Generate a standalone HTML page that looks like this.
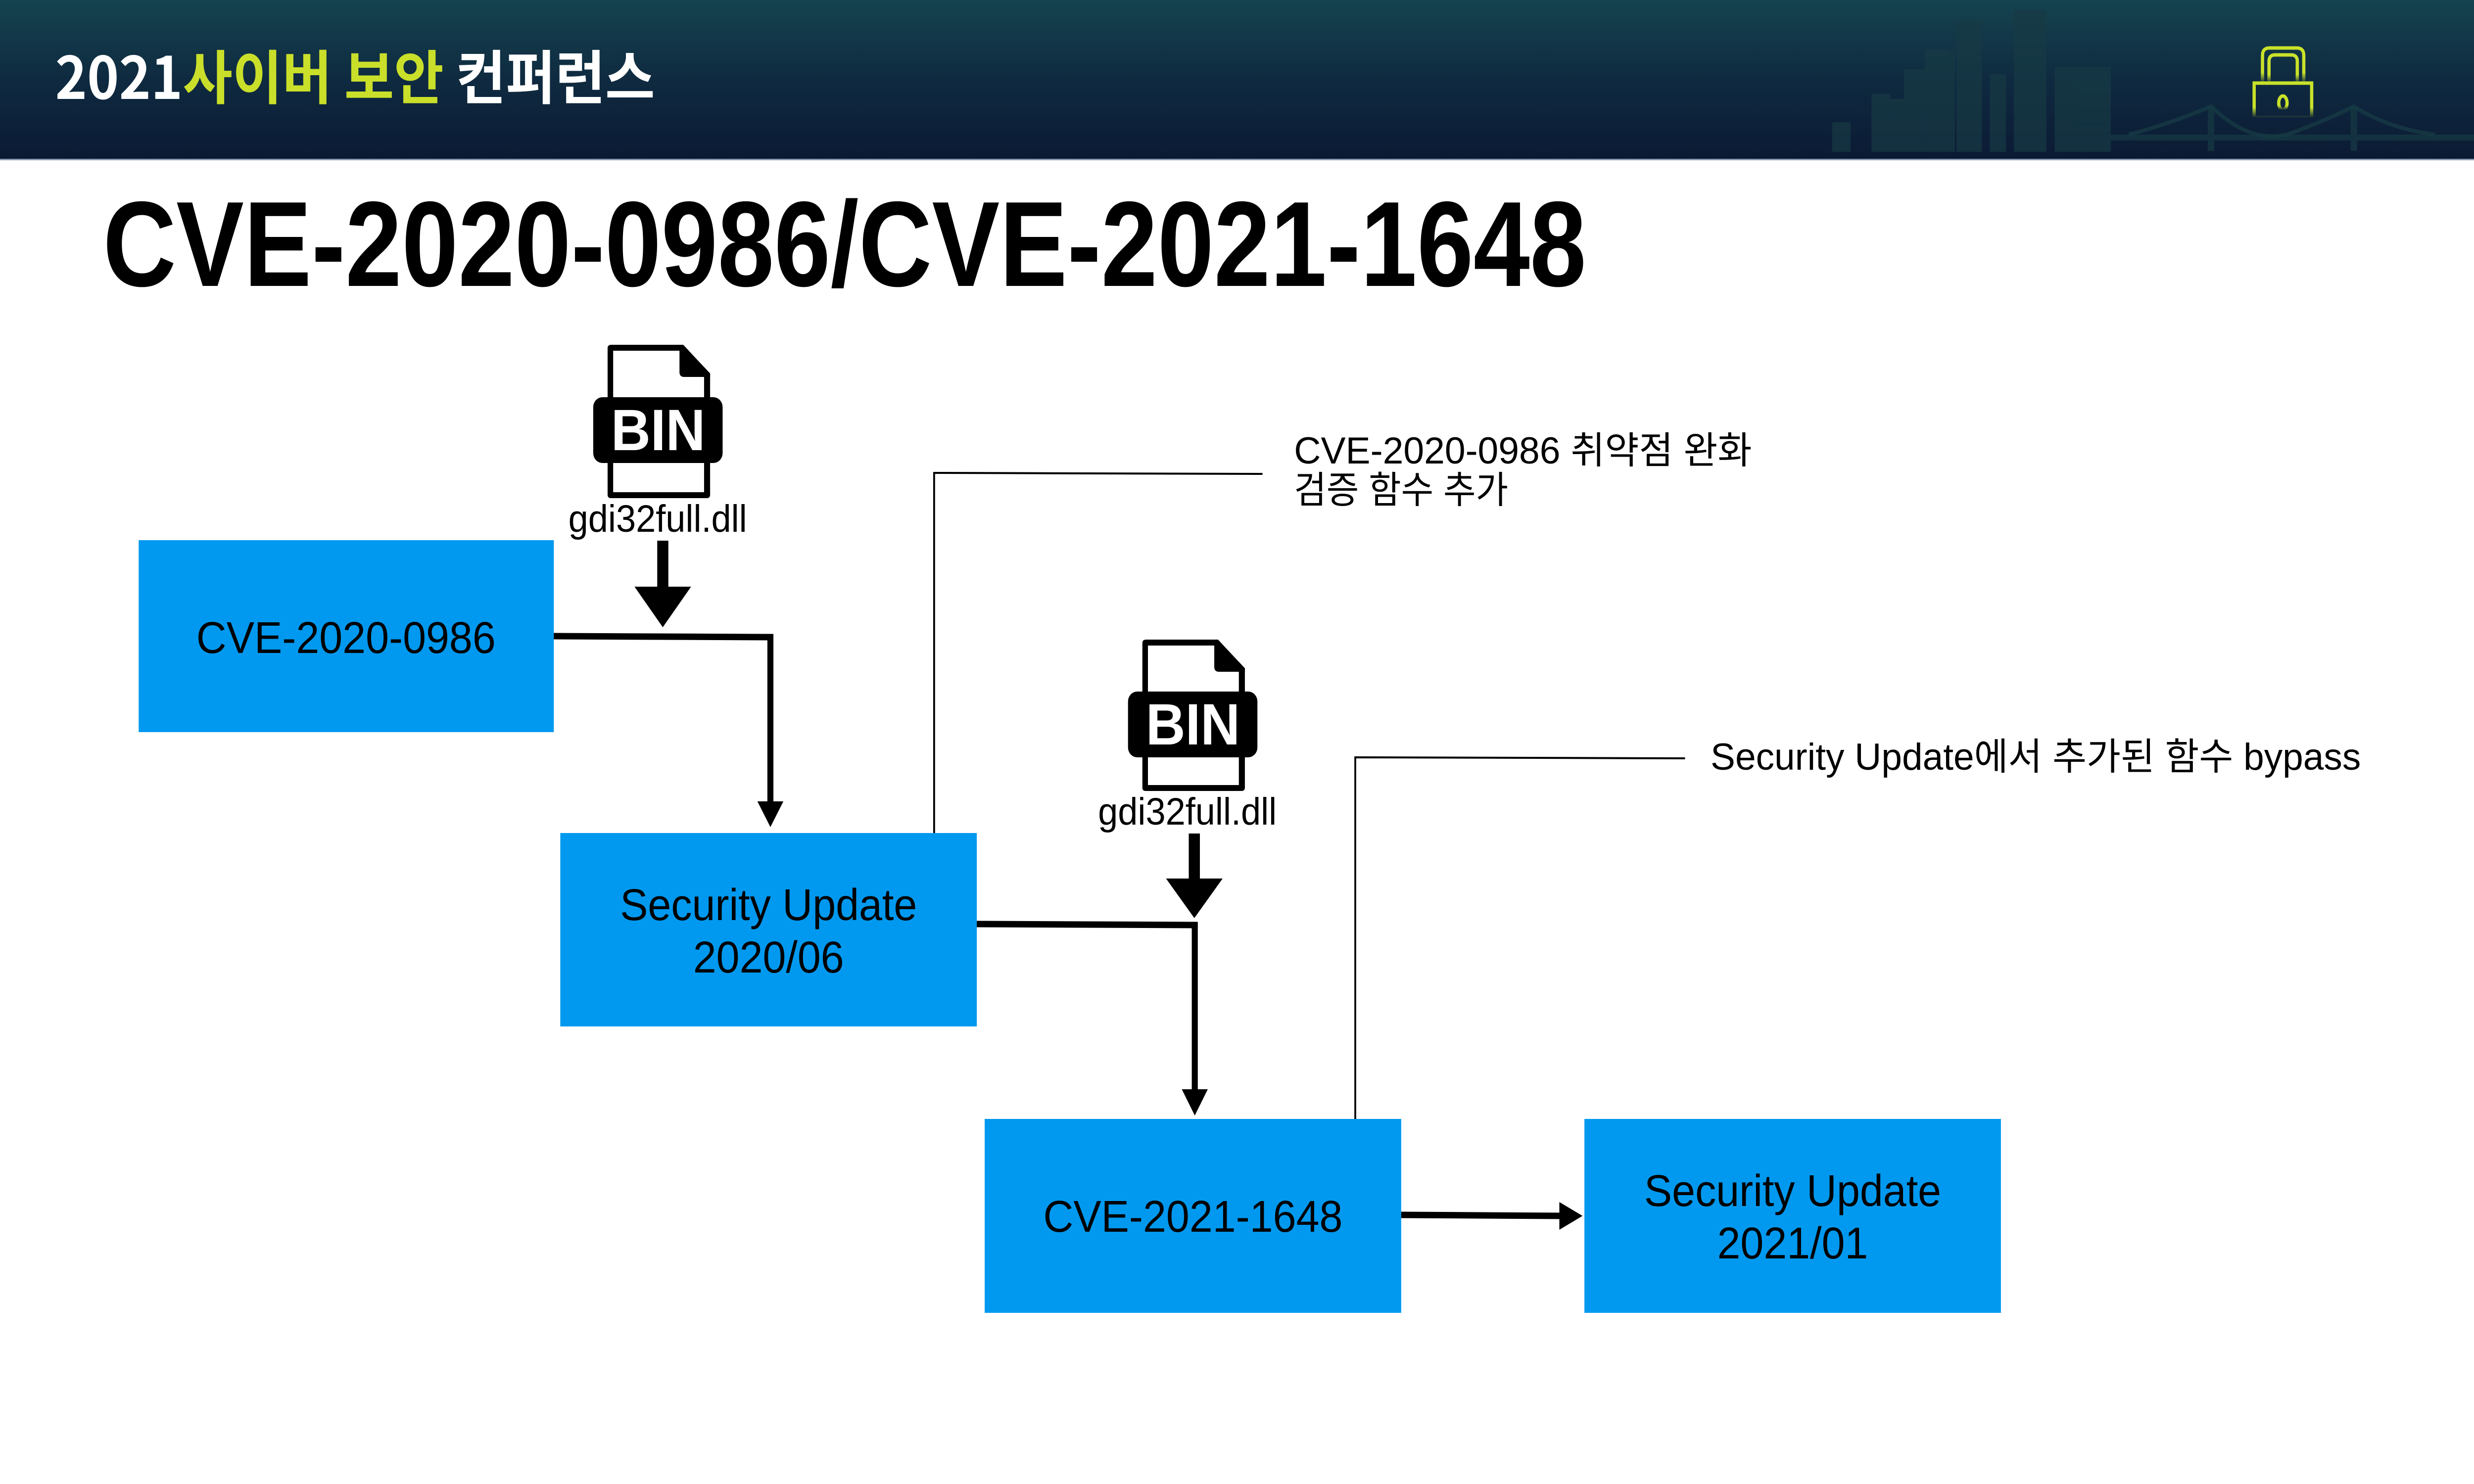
<!DOCTYPE html>
<html><head><meta charset="utf-8"><style>
html,body{margin:0;padding:0;background:#fff;overflow:hidden;width:100%;height:100%;}
svg{display:block;width:100vw;height:100vh;}
</style></head><body>
<svg viewBox="0 0 5334 3000" preserveAspectRatio="none" xmlns="http://www.w3.org/2000/svg">
<defs>
<linearGradient id="hg" x1="0" y1="0" x2="0" y2="1">
<stop offset="0" stop-color="#15434f"/><stop offset="0.5" stop-color="#0f2a40"/><stop offset="1" stop-color="#0b1a34"/>
</linearGradient>
<linearGradient id="lg" x1="0" y1="0" x2="0" y2="1">
<stop offset="0" stop-color="#c9e22a"/><stop offset="0.7" stop-color="#c9e22a"/><stop offset="1" stop-color="#c9e22a" stop-opacity="0"/>
</linearGradient>
</defs>
<rect x="0" y="0" width="5334" height="323" fill="url(#hg)"/>
<rect x="0" y="321" width="5334" height="3" fill="#8a9bb0"/>
<!-- skyline -->
<g fill="#173a44" opacity="0.7">
<rect x="3950" y="247" width="40" height="60"/>
<rect x="4035" y="190" width="40" height="117"/>
<rect x="4075" y="200" width="30" height="107"/>
<rect x="4105" y="140" width="45" height="167"/>
<rect x="4150" y="100" width="65" height="207"/>
<rect x="4218" y="42" width="55" height="265"/>
<rect x="4290" y="150" width="35" height="157"/>
<rect x="4342" y="20" width="70" height="287"/>
<rect x="4430" y="135" width="121" height="172"/>
<rect x="4551" y="272" width="783" height="12"/>
<rect x="4760" y="215" width="14" height="90"/>
<rect x="5068" y="215" width="14" height="90"/>
</g>
<path d="M4590 272 Q4680 250 4767 215 Q4850 290 4930 272 Q5000 250 5075 215 Q5150 260 5250 272" fill="none" stroke="#173a44" stroke-width="8" opacity="0.8"/>
<!-- lock -->
<g fill="none" stroke="url(#lg)" stroke-width="7">
<path d="M4878 168 V112 Q4878 97 4893 97 H4952 Q4967 97 4967 112 V168"/>
<path d="M4892 168 V124 Q4892 111 4905 111 H4940 Q4953 111 4953 124 V168"/>
<rect x="4860" y="168" width="124" height="70"/>
<ellipse cx="4922" cy="208" rx="9" ry="14"/>
</g>
<text x="119" y="200" font-family="'Noto Sans CJK KR','Liberation Sans',sans-serif" font-weight="700" font-size="118" fill="#fff" textLength="1293" lengthAdjust="spacingAndGlyphs">2021<tspan fill="#c9df2a">사이버 보안</tspan> 컨퍼런스</text>

<!-- title -->
<text x="222" y="578" font-family="'Liberation Sans',sans-serif" font-weight="700" font-size="245" fill="#000" textLength="3198" lengthAdjust="spacingAndGlyphs">CVE-2020-0986/CVE-2021-1648</text>

<!-- boxes -->
<g fill="#0099ef">
<rect x="299" y="1092" width="895" height="388"/>
<rect x="1208" y="1684" width="898" height="391"/>
<rect x="2123" y="2262" width="898" height="392"/>
<rect x="3416" y="2262" width="898" height="392"/>
</g>
<g font-family="'Liberation Sans',sans-serif" font-size="90" fill="#000" text-anchor="middle">
<text x="746" y="1320">CVE-2020-0986</text>
<text x="1657" y="1860">Security Update</text>
<text x="1657" y="1966">2020/06</text>
<text x="2572" y="2490">CVE-2021-1648</text>
<text x="3865" y="2438">Security Update</text>
<text x="3865" y="2544">2021/01</text>
</g>

<!-- connectors -->
<g stroke="#000" stroke-width="13" fill="none">
<polyline points="1194,1286 1661,1288 1661,1630"/>
<polyline points="2106,1868 2576,1870 2576,2212"/>
<line x1="3021" y1="2456" x2="3370" y2="2458"/>
</g>
<g fill="#000">
<polygon points="1633,1620 1689,1620 1661,1672"/>
<polygon points="2548,2202 2604,2202 2576,2255"/>
<polygon points="3362,2430 3362,2486 3412,2458"/>
</g>

<!-- thin brackets -->
<g stroke="#000" stroke-width="4" fill="none">
<polyline points="2014,1684 2014,956 2722,958"/>
<polyline points="2922,2262 2922,1531 3633,1533"/>
</g>
<g font-family="'Liberation Sans','Noto Sans CJK KR',sans-serif" font-size="76" fill="#000">
<text x="2790" y="937" textLength="987" lengthAdjust="spacingAndGlyphs">CVE-2020-0986 취약점 완화</text>
<text x="2790" y="1017">검증 함수 추가</text>
<text x="3688" y="1556" textLength="1402" lengthAdjust="spacingAndGlyphs">Security Update에서 추가된 함수 bypass</text>
</g>

<!-- BIN icon 1 -->
<g>
<path d="M1318 697 H1473 L1531 755 V1000 Q1531 1007 1524 1007 H1317 Q1310 1007 1310 1000 V704 Q1310 697 1318 697 Z" fill="#000"/>
<rect x="1322" y="709" width="196" height="286" fill="#fff"/>
<path d="M1465 697 V752 Q1465 762 1475 762 H1531 V755 L1473 697 Z" fill="#000"/>
<rect x="1279" y="803" width="279" height="133" rx="20" fill="#000"/>
<text x="1419" y="910" text-anchor="middle" font-family="'Liberation Sans',sans-serif" font-weight="700" font-size="118" fill="#fff">BIN</text>
<text x="1418" y="1075" text-anchor="middle" font-family="'Liberation Sans',sans-serif" font-size="77" fill="#000">gdi32full.dll</text>
<rect x="1417" y="1093" width="24" height="95" fill="#000"/>
<polygon points="1368,1186 1490,1186 1429,1268" fill="#000"/>
</g>
<!-- BIN icon 2 -->
<g>
<path d="M2471 1293 H2626 L2684 1351 V1592 Q2684 1599 2677 1599 H2470 Q2463 1599 2463 1592 V1300 Q2463 1293 2471 1293 Z" fill="#000"/>
<rect x="2475" y="1305" width="196" height="282" fill="#fff"/>
<path d="M2618 1293 V1348 Q2618 1358 2628 1358 H2684 V1351 L2626 1293 Z" fill="#000"/>
<rect x="2432" y="1398" width="279" height="133" rx="20" fill="#000"/>
<text x="2572" y="1505" text-anchor="middle" font-family="'Liberation Sans',sans-serif" font-weight="700" font-size="118" fill="#fff">BIN</text>
<text x="2560" y="1667" text-anchor="middle" font-family="'Liberation Sans',sans-serif" font-size="77" fill="#000">gdi32full.dll</text>
<rect x="2563" y="1685" width="24" height="93" fill="#000"/>
<polygon points="2514,1776 2636,1776 2575,1856" fill="#000"/>
</g>
</svg>
</body></html>
